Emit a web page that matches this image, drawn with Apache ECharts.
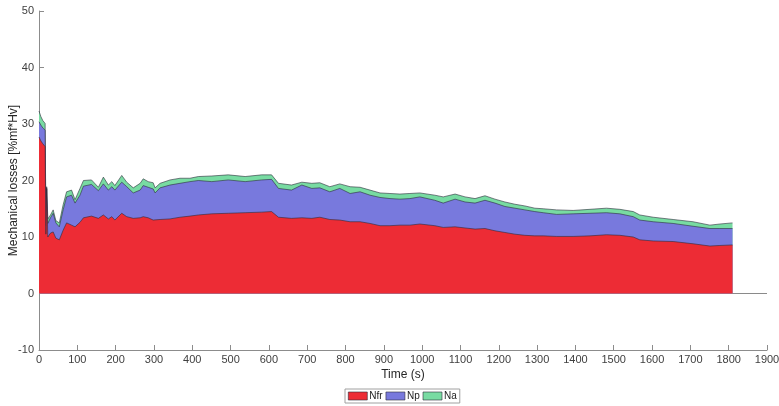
<!DOCTYPE html>
<html>
<head>
<meta charset="utf-8">
<script src="https://cdn.jsdelivr.net/npm/echarts@6/dist/echarts.min.js"></script>
<style>html,body{margin:0;padding:0;background:#fff}#c{width:779px;height:406px}</style>
</head>
<body>
<div id="c"></div>
<script>
const time = [0,5,10,16,18,20,23,26,30,37,44,53,63,72,85,94,107,116,137,155,168,181,190,198,216,229,246,264,272,285,298,303,316,342,368,394,416,451,494,538,581,607,625,659,686,712,733,759,785,812,838,864,890,916,942,968,994,1033,1055,1086,1112,1138,1164,1190,1216,1242,1268,1294,1316,1351,1394,1438,1481,1516,1551,1568,1603,1655,1707,1751,1777,1810];
const Nfr = [27.7,27.0,26.5,26.0,10.5,18.5,10.0,9.8,10.7,10.9,9.8,9.5,11.2,12.5,12.1,11.8,12.6,13.4,13.7,13.3,13.9,13.2,13.6,13.0,14.2,13.6,13.3,13.4,13.6,13.4,13.0,12.7,13.1,13.2,13.5,13.7,13.9,14.1,14.2,14.3,14.4,14.5,13.5,13.3,13.4,13.3,13.5,13.1,13.0,12.7,12.7,12.4,12.0,12.0,12.1,12.1,12.3,12.0,11.7,11.8,11.6,11.4,11.5,11.1,10.8,10.5,10.3,10.2,10.2,10.1,10.1,10.2,10.4,10.3,10.0,9.5,9.3,9.2,8.8,8.4,8.5,8.6];
const Np = [2.7,2.8,2.8,2.9,1.5,0.2,2.4,2.9,2.7,3.3,2.7,2.3,3.6,4.6,5.3,4.2,4.8,5.6,5.6,4.9,5.5,5.1,5.3,5.3,5.5,5.3,4.5,4.9,5.5,5.4,5.5,5.1,5.6,6.0,6.0,6.1,6.1,5.7,5.9,5.5,5.7,5.7,5.1,5.0,5.8,5.3,5.2,4.9,5.6,5.0,5.3,5.0,5.0,4.8,4.6,4.7,4.8,4.5,4.3,4.9,4.6,4.6,5.0,4.9,4.6,4.6,4.5,4.3,4.1,3.9,4.0,4.0,3.9,3.8,3.6,3.5,3.4,3.2,3.1,3.1,3.0,2.9];
const Na = [1.9,1.5,1.3,1.2,0.8,0.2,0.8,0.7,0.5,0.6,0.4,0.7,0.9,0.9,0.9,0.6,1.2,1.0,0.8,0.6,1.2,0.9,0.9,0.8,1.2,0.8,0.9,1.2,1.2,1.0,1.1,0.9,0.8,0.9,0.9,0.6,0.7,1.0,0.9,0.9,0.9,0.8,0.9,0.9,0.5,0.9,0.9,0.9,0.8,1.2,0.8,0.9,0.8,0.9,0.9,0.9,0.7,0.9,1.1,0.9,0.9,0.8,0.8,0.7,0.8,0.7,0.7,0.6,0.7,0.8,0.6,0.7,0.8,0.8,0.9,0.9,0.8,0.7,0.8,0.6,0.8,1.0];
const seriesNames = ['Nfr','Np','Na'];
const seriesColors = ['#ED2C35','#7879DD','#78DBA2'];
const xTicks = {min:0, max:1900, interval:100};
const yTicks = {min:-10, max:50, interval:10};

const chart = echarts.init(document.getElementById('c'), null, {renderer:'canvas'});
const font = 'Liberation Sans, Arial, Helvetica, sans-serif';
const edge = '#2b2b3a';
const values = [Nfr, Np, Na];
// cumulative stacking (area plot): each layer's top = sum of layers below + itself
const tops = [];
values.forEach((vals, k) => {
  tops.push(vals.map((v, i) => (k ? tops[k - 1][i] : 0) + v));
});
const series = values.map((vals, k) => ({
  name: seriesNames[k],
  type: 'line',
  data: time.map((t, i) => [t, tops[k][i]]),
  showSymbol: false,
  symbol: 'none',
  smooth: false,
  lineStyle: {color: edge, width: 0.6},
  itemStyle: {color: seriesColors[k], borderColor: edge, borderWidth: 0.6},
  areaStyle: {color: seriesColors[k], opacity: 1, origin: 0},
  z: 10 - k,
  emphasis: {disabled: true},
  animation: false
}));
series[0].markLine = {
  silent: true,
  symbol: ['none','none'],
  label: {show: false},
  lineStyle: {color: '#8a8a8a', width: 1, type: 'solid'},
  data: [{yAxis: 0}],
  animation: false
};
chart.setOption({
  backgroundColor: '#fff',
  animation: false,
  grid: {left: 39, right: 12, top: 11, bottom: 56, containLabel: false, outerBoundsMode: 'none'},
  legend: {
    data: seriesNames,
    bottom: 3,
    left: 345,
    icon: 'rect',
    itemWidth: 19,
    itemHeight: 8,
    itemGap: 3,
    padding: [2, 3],
    borderColor: '#a0a0a0',
    borderWidth: 1,
    backgroundColor: '#fff',
    textStyle: {fontFamily: font, fontSize: 10, color: '#222', padding: [0, 0, 0, -3]},
    itemStyle: {borderColor: edge, borderWidth: 0.6}
  },
  xAxis: {
    type: 'value',
    min: xTicks.min, max: xTicks.max, interval: xTicks.interval,
    name: 'Time (s)', nameLocation: 'middle', nameGap: 19, nameMoveOverlap: false,
    nameTextStyle: {fontFamily: font, fontSize: 12, color: '#262626'},
    axisLine: {show: true, onZero: false, lineStyle: {color: '#8c8c8c', width: 1}},
    axisTick: {show: true, inside: true, length: 5, lineStyle: {color: '#8c8c8c'}},
    axisLabel: {fontFamily: font, fontSize: 11, color: '#404040', margin: 4, formatter: v => String(v)},
    splitLine: {show: false}
  },
  yAxis: {
    type: 'value',
    min: yTicks.min, max: yTicks.max, interval: yTicks.interval,
    name: 'Mechanical losses [%mf*Hv]', nameLocation: 'middle', nameGap: 19, nameMoveOverlap: false,
    nameTextStyle: {fontFamily: font, fontSize: 12, color: '#262626'},
    axisLine: {show: true, onZero: false, lineStyle: {color: '#8c8c8c', width: 1}},
    axisTick: {show: true, inside: true, length: 5, lineStyle: {color: '#8c8c8c'}},
    axisLabel: {fontFamily: font, fontSize: 11, color: '#404040', margin: 5, formatter: v => String(v)},
    splitLine: {show: false}
  },
  series: series
});
</script>
</body>
</html>
